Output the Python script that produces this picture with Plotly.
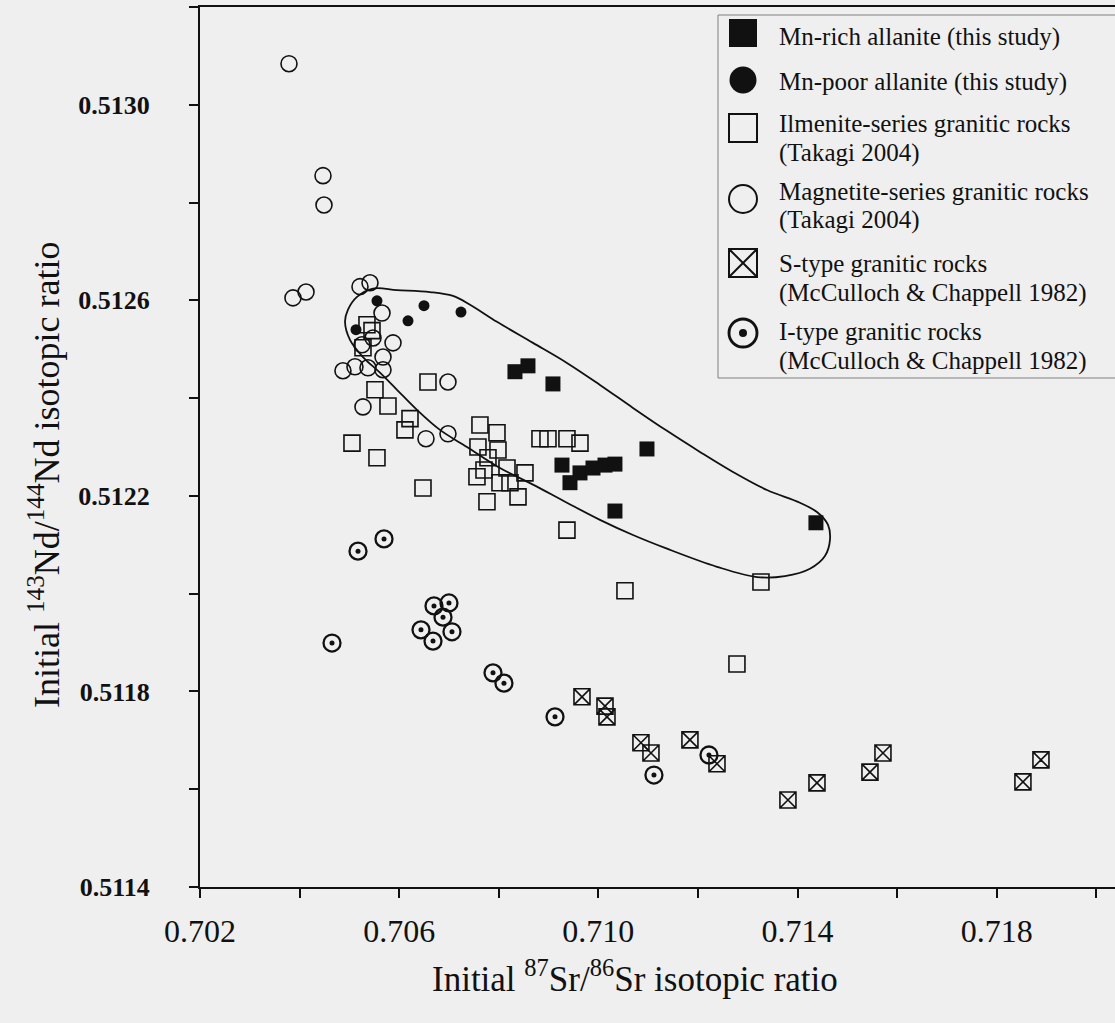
import plotly.graph_objects as go

# ---- data: initial 87Sr/86Sr (x) and 143Nd/144Nd (y) ----
mn_rich_sr = [0.708325, 0.708586, 0.709088, 0.710976, 0.709269, 0.709430,
              0.709631, 0.709892, 0.710133, 0.710333, 0.710333, 0.714369]
mn_rich_nd = [0.512454, 0.512466, 0.512429, 0.512296, 0.512263, 0.512227,
              0.512247, 0.512257, 0.512263, 0.512265, 0.512169, 0.512145]

mn_poor_sr = [0.705554, 0.706498, 0.706177, 0.707241, 0.705133]
mn_poor_nd = [0.512599, 0.512589, 0.512558, 0.512576, 0.512540]

ilmenite_sr = [0.705353, 0.705454, 0.705273, 0.705514, 0.705775, 0.706217, 0.706116,
               0.705052, 0.705554, 0.706578, 0.706478, 0.707622, 0.707964, 0.707984,
               0.707582, 0.707562, 0.707703, 0.708165, 0.708526, 0.708024, 0.708225,
               0.707763, 0.708386, 0.707783, 0.708827, 0.708988, 0.709369, 0.709631,
               0.709369, 0.710534, 0.713265, 0.712783]
ilmenite_nd = [0.512550, 0.512538, 0.512503, 0.512417, 0.512384, 0.512358, 0.512335,
               0.512308, 0.512278, 0.512433, 0.512216, 0.512345, 0.512329, 0.512294,
               0.512300, 0.512239, 0.512253, 0.512257, 0.512247, 0.512227, 0.512227,
               0.512188, 0.512198, 0.512278, 0.512317, 0.512317, 0.512317, 0.512308,
               0.512130, 0.512006, 0.512024, 0.511856]

magnetite_sr = [0.703787, 0.704470, 0.704490, 0.703867, 0.704129, 0.705213, 0.705414,
                0.705655, 0.705876, 0.705675, 0.704871, 0.705112, 0.705373, 0.705675,
                0.705273, 0.706980, 0.706538, 0.706980, 0.705253, 0.705474]
magnetite_nd = [0.513084, 0.512855, 0.512795, 0.512605, 0.512617, 0.512628, 0.512636,
                0.512574, 0.512513, 0.512484, 0.512456, 0.512464, 0.512462, 0.512458,
                0.512382, 0.512433, 0.512317, 0.512327, 0.512509, 0.512523]

s_type_sr = [0.709671, 0.710133, 0.710173, 0.710855, 0.711056, 0.711839, 0.712382,
             0.713807, 0.714390, 0.715454, 0.715715, 0.718526, 0.718888]
s_type_nd = [0.511789, 0.511770, 0.511748, 0.511695, 0.511674, 0.511701, 0.511652,
             0.511578, 0.511613, 0.511635, 0.511674, 0.511615, 0.511660]

i_type_sr = [0.705173, 0.705695, 0.704651, 0.706699, 0.707000, 0.706880, 0.706438,
             0.706679, 0.707060, 0.707884, 0.708104, 0.709129, 0.711116, 0.712221]
i_type_nd = [0.512087, 0.512112, 0.511899, 0.511975, 0.511981, 0.511952, 0.511926,
             0.511903, 0.511922, 0.511838, 0.511817, 0.511748, 0.511629, 0.511670]

# field enclosing the allanite compositions (closed outline)
envelope_sr = [0.705153, 0.705474, 0.705956, 0.706618, 0.707080, 0.707422, 0.707964,
               0.708687, 0.709369, 0.710032, 0.710695, 0.711378, 0.712040, 0.712703,
               0.713386, 0.714048, 0.714390, 0.714610, 0.714651, 0.714550, 0.714249,
               0.713747, 0.713185, 0.712382, 0.711378, 0.710695, 0.710032, 0.709369,
               0.708687, 0.708024, 0.707361, 0.706819, 0.706357, 0.705956, 0.705614,
               0.705273, 0.705012, 0.704912, 0.704972, 0.705153]
envelope_nd = [0.512607, 0.512624, 0.512621, 0.512617, 0.512609, 0.512591, 0.512556,
               0.512513, 0.512472, 0.512427, 0.512380, 0.512333, 0.512290, 0.512249,
               0.512212, 0.512186, 0.512167, 0.512141, 0.512110, 0.512077, 0.512051,
               0.512036, 0.512034, 0.512055, 0.512092, 0.512120, 0.512151, 0.512186,
               0.512223, 0.512257, 0.512300, 0.512335, 0.512376, 0.512417, 0.512452,
               0.512484, 0.512519, 0.512556, 0.512581, 0.512607]

x_tick_vals = [0.702, 0.706, 0.710, 0.714, 0.718]
x_tick_text = ["0.702", "0.706", "0.710", "0.714", "0.718"]
x_minor_vals = [0.704, 0.708, 0.712, 0.716, 0.720]
y_tick_vals = [0.5114, 0.5118, 0.5122, 0.5126, 0.5130]
y_tick_text = ["0.5114", "0.5118", "0.5122", "0.5126", "0.5130"]
y_minor_vals = [0.5116, 0.5120, 0.5124, 0.5128, 0.5132]

legend_labels = [
    ["Mn-rich allanite (this study)"],
    ["Mn-poor allanite (this study)"],
    ["Ilmenite-series granitic rocks", "(Takagi 2004)"],
    ["Magnetite-series granitic rocks", "(Takagi 2004)"],
    ["S-type granitic rocks", "(McCulloch & Chappell 1982)"],
    ["I-type granitic rocks", "(McCulloch & Chappell 1982)"],
]

SERIF = "Liberation Serif, Times New Roman, serif"
INK = "#111111"
BG = "#efefef"

W, H = 1115, 1023
M_L, M_R, M_T, M_B = 200, 0, 7, 136


def px_to_paper(px, py):
    """Convert a canvas pixel position to paper fractions."""
    pw = W - M_L - M_R
    ph = H - M_T - M_B
    return (px - M_L) / pw, (H - M_B - py) / ph


styles = [
    dict(symbol="square", color=INK, line=dict(width=0)),
    dict(symbol="circle", color=INK, line=dict(width=0)),
    dict(symbol="square-open", color=INK, line=dict(width=1.6, color=INK)),
    dict(symbol="circle-open", color=INK, line=dict(width=1.6, color=INK)),
    dict(symbol="square-x-open", color=INK, line=dict(width=1.6, color=INK)),
    dict(symbol="circle-open", color=INK, line=dict(width=2.3, color=INK)),
]
plot_sizes = [15, 11, 16, 16, 16, 17]
series = [
    (mn_rich_sr, mn_rich_nd),
    (mn_poor_sr, mn_poor_nd),
    (ilmenite_sr, ilmenite_nd),
    (magnetite_sr, magnetite_nd),
    (s_type_sr, s_type_nd),
    (i_type_sr, i_type_nd),
]

fig = go.Figure()

# allanite field outline
fig.add_trace(go.Scatter(
    x=envelope_sr, y=envelope_nd, mode="lines",
    line=dict(color=INK, width=1.8, shape="spline", smoothing=1.0),
    hoverinfo="skip", showlegend=False,
))

# draw background groups first, allanite on top
for idx in [2, 3, 4, 5, 1, 0]:
    sx, sy = series[idx]
    st = styles[idx]
    fig.add_trace(go.Scatter(
        x=sx, y=sy, mode="markers", name=legend_labels[idx][0],
        marker=dict(symbol=st["symbol"], size=plot_sizes[idx], color=st["color"],
                    line=st["line"]),
        showlegend=False,
    ))
    if idx == 5:
        # centre dot of the I-type symbol
        fig.add_trace(go.Scatter(
            x=sx, y=sy, mode="markers", hoverinfo="skip", showlegend=False,
            marker=dict(symbol="circle", size=5, color=INK, line=dict(width=0)),
        ))

# ---- legend panel (drawn on an overlay axis in paper units) ----
legend_key_rows = [33, 80, 128, 199, 263, 333]
legend_text_rows = [[37], [82], [124, 153], [191, 220], [264, 293], [332, 361]]
key_px = 743
text_px = 777

kx, _ = px_to_paper(key_px, 0)
key_y = [px_to_paper(0, r)[1] for r in legend_key_rows]
for i, st in enumerate(styles):
    lw = st["line"].get("width", 0)
    fig.add_trace(go.Scatter(
        x=[kx], y=[key_y[i]], xaxis="x2", yaxis="y2", mode="markers",
        marker=dict(symbol=st["symbol"], size=28 if i != 1 else 27, color=st["color"],
                    line=dict(width=lw * 1.25 if lw else 0, color=INK)),
        hoverinfo="skip", showlegend=False, cliponaxis=False,
    ))
    if i == 5:
        fig.add_trace(go.Scatter(
            x=[kx], y=[key_y[i]], xaxis="x2", yaxis="y2", mode="markers",
            marker=dict(symbol="circle", size=8, color=INK, line=dict(width=0)),
            hoverinfo="skip", showlegend=False, cliponaxis=False,
        ))

annotations = []
tx, _ = px_to_paper(text_px, 0)
for lines, rows in zip(legend_labels, legend_text_rows):
    for txt, r in zip(lines, rows):
        annotations.append(dict(
            x=tx, y=px_to_paper(0, r)[1], xref="paper", yref="paper",
            text=txt, showarrow=False, xanchor="left", yanchor="middle",
            font=dict(family=SERIF, size=25, color=INK),
        ))

bx0, by0 = px_to_paper(718, 378)
bx1, by1 = px_to_paper(1125, 15)
shapes = [dict(type="rect", xref="paper", yref="paper", x0=bx0, x1=bx1, y0=by0, y1=by1,
               line=dict(color="#808080", width=1), fillcolor="rgba(0,0,0,0)", layer="below")]

# axis titles
ytx, yty = px_to_paper(45, 475)
annotations.append(dict(
    x=ytx, y=yty, xref="paper", yref="paper", textangle=-90, showarrow=False,
    xanchor="center", yanchor="middle",
    text="Initial <sup>143</sup>Nd/<sup>144</sup>Nd isotopic ratio",
    font=dict(family=SERIF, size=36, color=INK),
))
xtx, xty = px_to_paper(635, 976)
annotations.append(dict(
    x=xtx, y=xty, xref="paper", yref="paper", showarrow=False,
    xanchor="center", yanchor="middle",
    text="Initial <sup>87</sup>Sr/<sup>86</sup>Sr isotopic ratio",
    font=dict(family=SERIF, size=35, color=INK),
))

fig.update_layout(
    width=W, height=H,
    margin=dict(l=M_L, r=M_R, t=M_T, b=M_B, pad=0),
    paper_bgcolor=BG, plot_bgcolor=BG,
    showlegend=False,
    annotations=annotations,
    shapes=shapes,
    xaxis=dict(
        range=[0.702, 0.720375], tickmode="array", tickvals=x_tick_vals, ticktext=x_tick_text,
        showgrid=False, zeroline=False, showline=True, linecolor=INK, linewidth=2,
        mirror=True, ticks="outside", ticklen=9, tickwidth=1.5, tickcolor=INK,
        tickfont=dict(family=SERIF, size=32, color=INK), ticklabelstandoff=6,
        minor=dict(tickmode="array", tickvals=x_minor_vals, ticks="outside", ticklen=9,
                   tickwidth=1.5, tickcolor=INK, showgrid=False),
    ),
    yaxis=dict(
        range=[0.5114, 0.5132], tickmode="array", tickvals=y_tick_vals, ticktext=y_tick_text,
        showgrid=False, zeroline=False, showline=True, linecolor=INK, linewidth=2,
        ticks="outside", ticklen=9, tickwidth=1.5, tickcolor=INK,
        tickfont=dict(family=SERIF, size=26, color=INK, weight="bold"),
        ticklabelstandoff=34,
        minor=dict(tickmode="array", tickvals=y_minor_vals, ticks="outside", ticklen=9,
                   tickwidth=1.5, tickcolor=INK, showgrid=False),
    ),
    xaxis2=dict(overlaying="x", range=[0, 1], visible=False, fixedrange=True),
    yaxis2=dict(overlaying="y", range=[0, 1], visible=False, fixedrange=True),
)

fig.write_html("out.html")
